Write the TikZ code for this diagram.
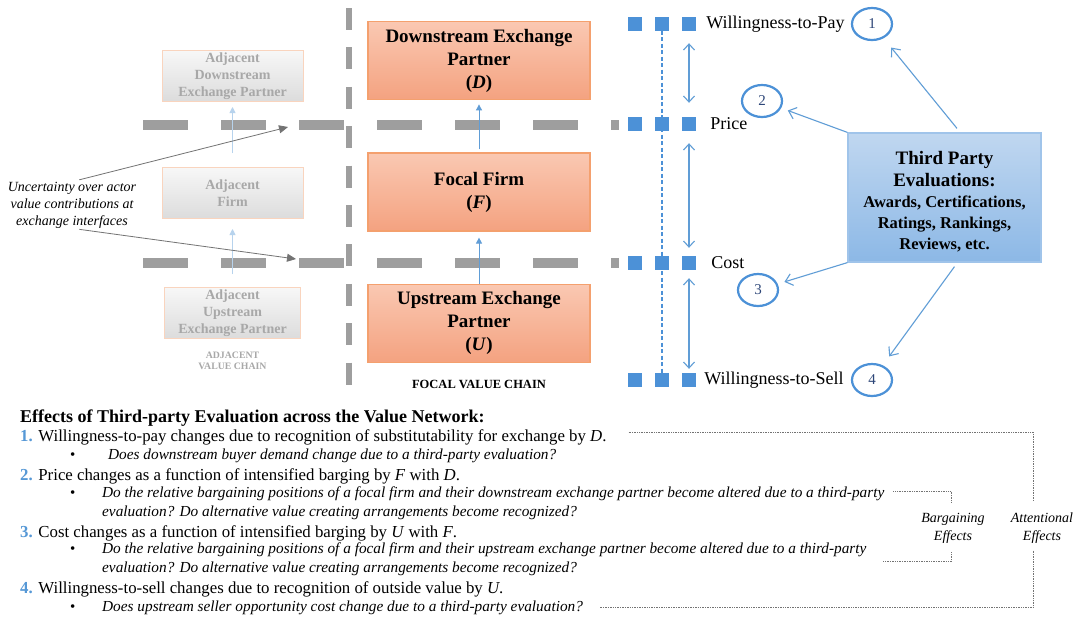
\documentclass[tikz,border=0pt]{standalone}
\usepackage{fontspec}
\setmainfont{Liberation Serif}
\usetikzlibrary{positioning, arrows.meta, shapes.geometric, calc}

\definecolor{chainGray}{RGB}{158,158,158}
\definecolor{sqBlue}{RGB}{76,145,215}
\definecolor{arrBlue}{RGB}{96,157,214}
\definecolor{numBlue}{RGB}{86,152,214}
\definecolor{orTop}{RGB}{250,200,178}
\definecolor{orBot}{RGB}{244,162,128}
\definecolor{orLine}{RGB}{244,160,110}
\definecolor{adjTop}{RGB}{247,247,247}
\definecolor{adjBot}{RGB}{220,220,220}
\definecolor{adjLine}{RGB}{249,212,190}
\definecolor{adjText}{RGB}{168,168,168}
\definecolor{tpTop}{RGB}{192,215,240}
\definecolor{tpBot}{RGB}{140,184,230}
\definecolor{tpLine}{RGB}{160,196,234}
\definecolor{cirText}{RGB}{45,70,120}

\begin{document}
\begin{tikzpicture}[
  x=1pt, y=-1pt,
  actor/.style={draw=orLine, line width=1.2pt, top color=orTop, bottom color=orBot,
                minimum width=222pt, minimum height=78pt, align=center,
                font=\fontsize{19}{23}\selectfont\bfseries},
  adj/.style={draw=adjLine, line width=1pt, top color=adjTop, bottom color=adjBot,
              minimum width=141pt, minimum height=51pt, inner ysep=1pt, align=center,
              text=adjText, font=\fontsize{14}{17}\selectfont\bfseries},
  tpbox/.style={draw=tpLine, line width=1.2pt, top color=tpTop, bottom color=tpBot,
                minimum width=193pt, minimum height=129pt},
  tptext/.style={align=center, inner sep=0pt, font=\fontsize{16.5}{21}\selectfont\bfseries},
  sqr/.style={fill=sqBlue, minimum size=14pt, inner sep=0pt},
  ring/.style={draw=sqBlue, ellipse, line width=2.2pt, minimum width=40pt,
               minimum height=32pt, inner sep=0pt, text=cirText,
               font=\fontsize{15}{15}\selectfont},
  rowlab/.style={inner sep=0pt, font=\fontsize{18}{18}\selectfont},
  chainlab/.style={inner sep=0pt, align=center, font=\bfseries},
  ifaceline/.style={draw=chainGray, line width=10pt, dash pattern=on 45pt off 33pt},
  chainline/.style={draw=chainGray, line width=6pt, dash pattern=on 22pt off 17.4pt},
  flow/.style={-{Triangle[length=6pt,width=6pt]}, draw=arrBlue, line width=0.9pt},
  adjflow/.style={-{Triangle[length=6pt,width=6pt]}, draw=arrBlue!45, line width=0.9pt},
  spread/.style={{Straight Barb[length=6pt,width=11pt]}-{Straight Barb[length=6pt,width=11pt]},
                 draw=arrBlue, line width=1.1pt},
  eval/.style={-{Straight Barb[length=7pt,width=12pt]}, draw=arrBlue, line width=1.1pt},
  uncarr/.style={-{Triangle[length=9pt,width=8pt]}, draw=black!55, line width=0.8pt},
  head/.style={anchor=base west, inner sep=0pt, font=\fontsize{18}{20}\selectfont\bfseries},
  item/.style={anchor=base west, inner sep=0pt, font=\fontsize{16.8}{20}\selectfont},
  ask/.style={anchor=base west, inner sep=0pt, font=\fontsize{15.3}{19}\selectfont\itshape},
  bul/.style={anchor=base west, inner sep=0pt, font=\fontsize{15}{19}\selectfont},
  side/.style={align=center, inner sep=0pt, font=\fontsize{14}{18}\selectfont\itshape},
  brk/.style={draw=black!55, densely dotted, line width=0.7pt},
]
\useasboundingbox (0,0) rectangle (1089,619);
\fill[white] (0,0) rectangle (1089,619);

% value chain borders
\draw[ifaceline] (143,125) -- (619,125);
\draw[ifaceline] (143,263) -- (619,263);
\draw[chainline] (349,8) -- (349,385);

% adjacent value chain
\node[adj] (af) at (232.5,193) {Adjacent\\Firm};
\node[adj, above=65pt of af] (adep) {Adjacent\\Downstream\\Exchange Partner};
\node[adj, below=68pt of af, minimum width=136pt] (au) {Adjacent\\Upstream\\Exchange Partner};
\node[chainlab, text=adjText, below=12.7pt of au,
      font=\fontsize{9.8}{11}\selectfont\bfseries] (adjlab) {ADJACENT\\VALUE CHAIN};
\draw[adjflow, shorten <=14pt, shorten >=5pt] (af.north) -- (adep.south);
\draw[adjflow, shorten <=13pt, shorten >=10pt] (au.north) -- (af.south);

% focal value chain
\node[actor] (f) at (479,192) {Focal Firm\\(\textit{F})};
\node[actor, above=52pt of f] (d) {Downstream Exchange\\Partner\\(\textit{D})};
\node[actor, below=52pt of f] (u) {Upstream Exchange\\Partner\\(\textit{U})};
\node[chainlab, below=17pt of u, font=\fontsize{12.5}{14}\selectfont\bfseries] (foclab)
  {FOCAL VALUE CHAIN};
\draw[flow, shorten <=3pt, shorten >=4pt] (f.north) -- (d.south);
\draw[flow, shorten >=6pt] (u.north) -- (f.south);

% uncertainty at the interfaces
\node[side, font=\fontsize{14}{17}\selectfont\itshape] (unc) at (72,205)
  {Uncertainty over actor\\value contributions at\\exchange interfaces};
\coordinate (ifD) at (288,127);
\coordinate (ifU) at (296,259);
\draw[uncarr, shorten <=7.5pt] (unc.north) -- (ifD);
\draw[uncarr, shorten <=7.5pt] (unc.south) -- (ifU);

% value levels
\foreach \y [count=\r] in {24,124,263,380}
  \foreach \x [count=\c] in {635,662,689}
    \node[sqr] (s\r\c) at (\x,\y) {};
\draw[draw=sqBlue, line width=1.3pt, dash pattern=on 4pt off 2.5pt] (s12.center) -- (s42.center);
\draw[spread, shorten <=12pt, shorten >=14pt] (s13.south) -- (s23.north);
\draw[spread, shorten <=12pt, shorten >=8pt] (s23.south) -- (s33.north);
\draw[spread, shorten <=8pt, shorten >=4pt] (s33.south) -- (s43.north);
\node[rowlab, right=10pt of s13] (wtp) {Willingness-to-Pay};
\node[rowlab, right=14pt of s23] (price) {Price};
\node[rowlab, right=15pt of s33] (cost) {Cost};
\node[rowlab, right=8pt of s43] (wts) {Willingness-to-Sell};

% third party evaluations
\node[ring] (c1) at (872,24) {1};
\node[ring] (c2) at (762,101) {2};
\node[ring] (c3) at (758,290) {3};
\node[ring] (c4) at (872,380) {4};
\node[tpbox] (tp) at (944.5,197.5) {};
\node[tptext] (tplab) at ([yshift=-4pt]tp.center)
  {{\fontsize{19}{23}\selectfont Third Party}\\[1pt]
   {\fontsize{19}{23}\selectfont Evaluations:}\\
   Awards, Certifications,\\Ratings, Rankings,\\Reviews, etc.};
\draw[eval, shorten >=12pt] ([xshift=12.5pt,yshift=4pt]tp.north) -- (c1);
\draw[eval, shorten >=7pt] (tp.north west) -- (c2);
\draw[eval, shorten >=7pt] (tp.south west) -- (c3);
\draw[eval, shorten >=11pt] ([xshift=10pt,yshift=-4pt]tp.south) -- (c4);

% effects list
\node[head] (t0) at (20,422) {Effects of Third-party Evaluation across the Value Network:};
\node[item] (n1) at (20,441) {\textcolor{numBlue}{\textbf{1.}} Willingness-to-pay changes due to recognition of substitutability for exchange by \textit{D}.};
\node[bul] (b1) at (70,459.5) {\textbullet};
\node[ask] (q1) at (108,459.5) {Does downstream buyer demand change due to a third-party evaluation?};
\node[item] (n2) at (20,480.5) {\textcolor{numBlue}{\textbf{2.}} Price changes as a function of intensified barging by \textit{F} with \textit{D}.};
\node[bul] (b2) at (70,497) {\textbullet};
\node[ask] (q2a) at (102,497) {Do the relative bargaining positions of a focal firm and their downstream exchange partner become altered due to a third-party};
\node[ask] (q2b) at (102,516) {evaluation? Do alternative value creating arrangements become recognized?};
\node[item] (n3) at (20,537.5) {\textcolor{numBlue}{\textbf{3.}} Cost changes as a function of intensified barging by \textit{U} with \textit{F}.};
\node[bul] (b3) at (70,553.5) {\textbullet};
\node[ask] (q3a) at (102,553.5) {Do the relative bargaining positions of a focal firm and their upstream exchange partner become altered due to a third-party};
\node[ask] (q3b) at (102,572) {evaluation? Do alternative value creating arrangements become recognized?};
\node[item] (n4) at (20,593.5) {\textcolor{numBlue}{\textbf{4.}} Willingness-to-sell changes due to recognition of outside value by \textit{U}.};
\node[bul] (b4) at (70,611) {\textbullet};
\node[ask] (q4) at (102,611) {Does upstream seller opportunity cost change due to a third-party evaluation?};

% effect brackets
\node[side] (barg) at (953,528) {Bargaining\\Effects};
\node[side] (att) at (1042,528) {Attentional\\Effects};
\draw[brk] ([xshift=22pt,yshift=5pt]n1.east) -| ([xshift=-9pt,yshift=11pt]att.north);
\draw[brk] ([xshift=-9pt,yshift=-7pt]att.south) |- ([xshift=17pt]q4.east);
\draw[brk] ([xshift=9pt,yshift=2pt]q2a.east) -| ([xshift=-2pt,yshift=10pt]barg.north);
\draw[brk] ([xshift=-2pt,yshift=-9pt]barg.south) |- ([xshift=16pt,yshift=-12pt]q3a.east);
\end{tikzpicture}
\end{document}
